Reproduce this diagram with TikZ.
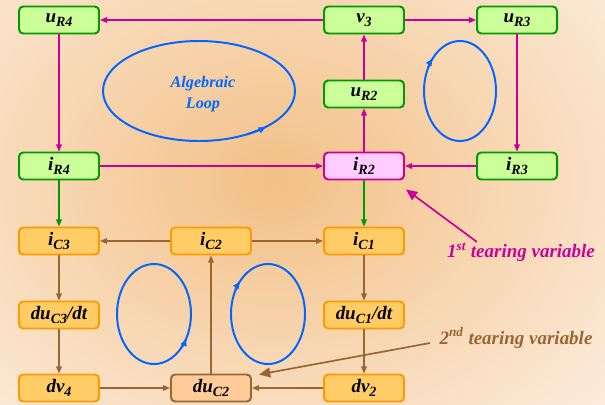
\documentclass[tikz,border=0pt]{standalone}
\usepackage{fontspec}
\setmainfont{Liberation Serif}
\usepackage{xcolor}
\usetikzlibrary{arrows.meta}

\definecolor{boxgreen}{RGB}{204,255,153}
\definecolor{linegreen}{RGB}{0,153,0}
\definecolor{boxpink}{RGB}{255,204,255}
\definecolor{magline}{RGB}{204,0,153}
\definecolor{boxorange}{RGB}{255,204,102}
\definecolor{lineorange}{RGB}{255,153,0}
\definecolor{boxtan}{RGB}{255,204,153}
\definecolor{brownline}{RGB}{153,102,51}
\definecolor{loopblue}{RGB}{0,102,255}
\definecolor{bgpeach}{RGB}{243,192,134}
\definecolor{bgpale}{RGB}{254,246,239}

\newcommand{\subs}[1]{\raisebox{-0.5ex}{\fontsize{10}{10}\selectfont #1}}

\begin{document}
\begin{tikzpicture}[x=0.025cm, y=0.025cm,
  var/.style={rounded corners=3pt, line width=1.4pt, minimum width=2cm, minimum height=0.675cm,
    inner sep=0pt, font=\fontsize{13.5}{15}\selectfont\bfseries\itshape},
  gvar/.style={var, draw=linegreen, fill=boxgreen},
  pvar/.style={var, draw=magline, fill=boxpink},
  ovar/.style={var, draw=lineorange, fill=boxorange},
  tvar/.style={var, draw=brownline, fill=boxtan},
  flow/.style={line width=0.8pt, -{Triangle[length=5pt,width=4pt]}},
  loopline/.style={draw=loopblue, line width=1.4pt},
  note/.style={font=\fontsize{13.5}{15}\selectfont\bfseries\itshape}]

% background
\begin{scope}
\clip (0,0) rectangle (605,-404);
\shade[inner color=bgpeach, outer color=bgpale] (275,-180) ellipse (540 and 420);
\end{scope}
\useasboundingbox (0,0) rectangle (605,-404);

% variables
\node[gvar] (uR4) at (59,-20) {u\subs{R4}};
\node[gvar] (v3) at (364,-20) {v\subs{3}};
\node[gvar] (uR3) at (517,-20) {u\subs{R3}};
\node[gvar] (uR2) at (364,-94) {u\subs{R2}};
\node[gvar] (iR4) at (59,-166) {i\subs{R4}};
\node[pvar] (iR2) at (364,-166) {i\subs{R2}};
\node[gvar] (iR3) at (517,-166) {i\subs{R3}};
\node[ovar] (iC3) at (59,-241) {i\subs{C3}};
\node[ovar] (iC2) at (211,-241) {i\subs{C2}};
\node[ovar] (iC1) at (364,-241) {i\subs{C1}};
\node[ovar] (duC3) at (59,-315) {du\subs{C3}/dt};
\node[ovar] (duC1) at (364,-315) {du\subs{C1}/dt};
\node[ovar] (dv4) at (59,-388) {dv\subs{4}};
\node[tvar] (duC2) at (211,-388) {du\subs{C2}};
\node[ovar] (dv2) at (364,-388) {dv\subs{2}};

% algebraic part
\draw[flow, magline] (v3) -- (uR4);
\draw[flow, magline] (v3) -- (uR3);
\draw[flow, magline] (uR3) -- (iR3);
\draw[flow, magline] (iR3) -- (iR2);
\draw[flow, magline] (iR4) -- (iR2);
\draw[flow, magline] (iR2) -- (uR2);
\draw[flow, magline] (uR2) -- (v3);
\draw[flow, magline] (uR4) -- (iR4);
\draw[flow, linegreen] (iR4) -- (iC3);
\draw[flow, linegreen] (iR2) -- (iC1);

% capacitor part
\draw[flow, brownline] (iC2) -- (iC3);
\draw[flow, brownline] (iC2) -- (iC1);
\draw[flow, brownline] (iC3) -- (duC3);
\draw[flow, brownline] (duC3) -- (dv4);
\draw[flow, brownline] (dv4) -- (duC2);
\draw[flow, brownline] (duC2) -- (iC2);
\draw[flow, brownline] (iC1) -- (duC1);
\draw[flow, brownline] (duC1) -- (dv2);
\draw[flow, brownline] (dv2) -- (duC2);

% loops
\draw[loopline] (199,-91) ellipse (96 and 50);
\draw[loopline, -{Latex[length=6pt,width=5pt]}] (199,-91) ++(-60:96 and 50) arc[start angle=-60, end angle=-45, x radius=96, y radius=50];
\node[note, text=loopblue, font=\fontsize{11.5}{15}\selectfont\bfseries\itshape, align=center] (alg) at (203,-94) {Algebraic\\Loop};

\draw[loopline] (460,-91) ellipse (36 and 50);
\draw[loopline, -{Latex[length=6pt,width=5pt]}] (460,-91) ++(152:36 and 50) arc[start angle=152, end angle=138, x radius=36, y radius=50];

\draw[loopline] (154,-314) ellipse (37 and 50);
\draw[loopline, -{Latex[length=6pt,width=5pt]}] (154,-314) ++(-42:37 and 50) arc[start angle=-42, end angle=-28, x radius=37, y radius=50];

\draw[loopline] (268,-314) ellipse (37 and 50);
\draw[loopline, -{Latex[length=6pt,width=5pt]}] (268,-314) ++(152:37 and 50) arc[start angle=152, end angle=138, x radius=37, y radius=50];

% tearing variables
\node[note, text=magline] (tear1) at (521,-252) {1\textsuperscript{st} tearing variable};
\node[note, text=brownline] (tear2) at (516,-338) {2\textsuperscript{nd} tearing variable};
\coordinate (tail1) at (477,-242);
\coordinate (tail2) at (430,-343);
\draw[magline, line width=1.2pt, -{Triangle[length=8pt,width=7pt]}] (tail1) -- ([shift={(1,-9)}]iR2.south east);
\draw[brownline, line width=1.2pt, -{Triangle[length=8pt,width=7pt]}] (tail2) -- ([shift={(7,-1)}]duC2.north east);

\end{tikzpicture}
\end{document}
